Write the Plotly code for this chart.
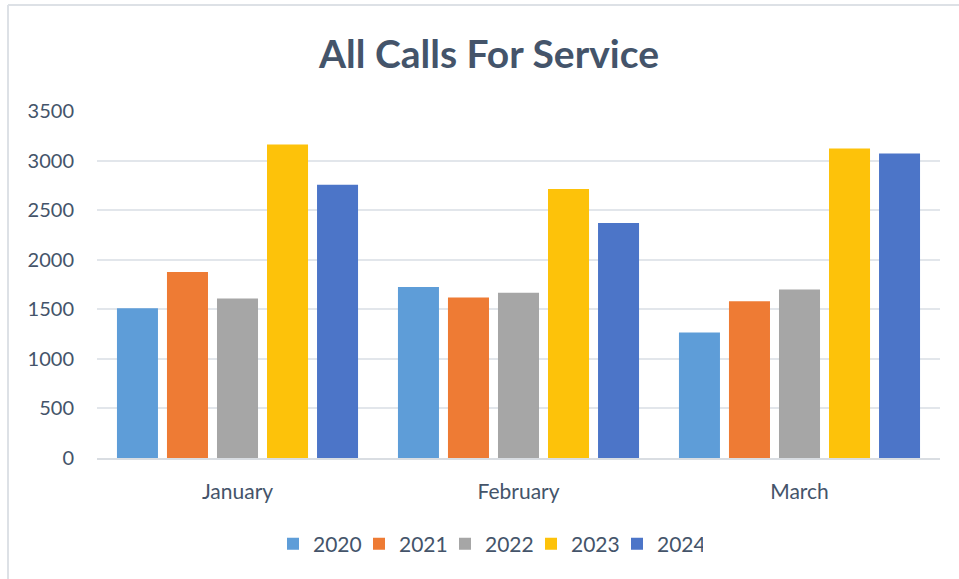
import plotly.graph_objects as go

months = ["January", "February", "March"]
years = ["2020", "2021", "2022", "2023", "2024"]
v2020 = [1510, 1725, 1265]
v2021 = [1875, 1618, 1580]
v2022 = [1608, 1667, 1700]
v2023 = [3163, 2714, 3122]
v2024 = [2757, 2370, 3071]
series = [v2020, v2021, v2022, v2023, v2024]
colors = ["#5E9DD8", "#EE7B34", "#A6A6A6", "#FDC20A", "#4C75C8"]

W, H = 959, 579
L, R, T, B = 97, 19, 111, 121
pw = W - L - R
ph = H - T - B

fig = go.Figure()
for yr, vals, c in zip(years, series, colors):
    fig.add_trace(go.Bar(name=yr, x=months, y=vals, marker=dict(color=c, line=dict(width=0))))

def px_x(px):
    return (px - L) / pw

def px_y(py):
    return (H - B - py) / ph

text_color = "#44546A"
font_family = "Lato, Carlito, 'Liberation Sans', sans-serif"

fig.update_layout(
    width=W, height=H,
    margin=dict(l=L, r=R, t=T, b=B, autoexpand=False),
    paper_bgcolor="white", plot_bgcolor="white",
    barmode="group", bargap=0.11, bargroupgap=0.18,
    title=dict(text="<b>All Calls For Service</b>", x=489 / W, xanchor="center",
               y=1 - 54 / H, yanchor="middle", yref="container",
               font=dict(family=font_family, size=39, color=text_color)),
    font=dict(family=font_family, color=text_color, size=20),
    legend=dict(orientation="h", x=px_x(488), xanchor="center", y=px_y(544), yanchor="middle",
                font=dict(size=21, color=text_color), itemwidth=30, traceorder="normal",
                entrywidth=41, entrywidthmode="pixels",
                bgcolor="rgba(0,0,0,0)"),
    showlegend=True,
    shapes=[
        dict(type="line", xref="paper", yref="paper", x0=px_x(8), x1=px_x(8), y0=px_y(5), y1=px_y(580),
             line=dict(color="#DDE1E6", width=2)),
        dict(type="line", xref="paper", yref="paper", x0=px_x(8), x1=px_x(960), y0=px_y(5), y1=px_y(5),
             line=dict(color="#DDE1E6", width=2)),
    ],
)
fig.update_yaxes(range=[0, 3500], tickvals=[0, 500, 1000, 1500, 2000, 2500, 3000, 3500],
                 showgrid=True, gridcolor="#E2E6EB", gridwidth=1.5, zeroline=False,
                 showline=False, ticks="", ticklabelstandoff=22,
                 tickfont=dict(size=20, color=text_color), fixedrange=True)
fig.update_xaxes(showline=True, linecolor="#D9DDE2", linewidth=2, ticks="",
                 ticklabelstandoff=14, tickfont=dict(size=21, color=text_color), fixedrange=True)

fig.write_html("out.html", config={"displayModeBar": False},
               post_script="document.body.style.margin='0';document.body.style.overflow='hidden';")
